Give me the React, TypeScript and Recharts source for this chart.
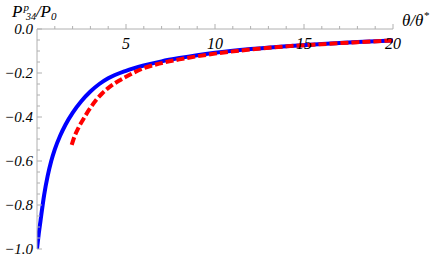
import React from "react";
import { LineChart, Line, XAxis, YAxis } from "recharts";

const blueX = [0, 0.1, 0.2, 0.4, 0.6, 0.8, 1.0, 1.3, 1.6, 2.0, 2.5, 3.0, 3.5, 4.0, 5, 6, 7, 8, 9, 10, 12, 14, 16, 18, 20];
const blueY = [-1.0, -0.93, -0.87, -0.755, -0.668, -0.6, -0.547, -0.485, -0.435, -0.381, -0.327, -0.284, -0.25, -0.224, -0.19, -0.166, -0.147, -0.132, -0.119, -0.108, -0.091, -0.078, -0.068, -0.059, -0.052];

const redX = [1.95, 2.1, 2.36, 2.6, 2.92, 3.3, 3.67, 4.1, 4.6, 5, 6, 7, 8, 9, 10, 12, 14, 16, 18, 20];
const redY = [-0.527, -0.49, -0.444, -0.41, -0.368, -0.325, -0.292, -0.262, -0.235, -0.217, -0.178, -0.155, -0.138, -0.124, -0.112, -0.093, -0.079, -0.069, -0.06, -0.052];

const xTicks = [1, 2, 3, 4, 5, 6, 7, 8, 9, 10, 11, 12, 13, 14, 15, 16, 17, 18, 19, 20];
const xMajor = [5, 10, 15, 20];
const yTicks = [0, -0.05, -0.1, -0.15, -0.2, -0.25, -0.3, -0.35, -0.4, -0.45, -0.5, -0.55, -0.6, -0.65, -0.7, -0.75, -0.8, -0.85, -0.9, -0.95, -1.0];
const yMajor = [0, -0.2, -0.4, -0.6, -0.8, -1.0];

const blueData = blueX.map((x, i) => ({ x, y: blueY[i] }));
const redData = redX.map((x, i) => ({ x, y: redY[i] }));

const PLOT_LEFT = 37;
const PLOT_TOP = 29;
const FONT = '"Liberation Serif", "Times New Roman", "DejaVu Serif", serif';
const AXIS_COLOR = "#b0b0b0";
const textStyle = { fontFamily: FONT, fontStyle: "italic" as const };

const isMajor = (arr: number[], v: number) => arr.some((m) => Math.abs(m - v) < 1e-6);

const XTick = (props: any) => {
  const { x, payload } = props;
  const v = payload.value;
  const major = isMajor(xMajor, v);
  return (
    <g>
      <line x1={x} x2={x} y1={PLOT_TOP} y2={PLOT_TOP - (major ? 5 : 3)} stroke={AXIS_COLOR} strokeWidth={1} />
      {major && (
        <text x={x} y={PLOT_TOP + 20} textAnchor="middle" style={textStyle} fontSize={16} fill="#000">
          {v}
        </text>
      )}
    </g>
  );
};

const YTick = (props: any) => {
  const { y, payload } = props;
  const v = payload.value;
  const major = isMajor(yMajor, v);
  const label = v === 0 ? "0.0" : "\u2212" + Math.abs(v).toFixed(1);
  return (
    <g>
      <line x1={PLOT_LEFT} x2={PLOT_LEFT + (major ? 5 : 3)} y1={y} y2={y} stroke={AXIS_COLOR} strokeWidth={1} />
      {major && (
        <text x={PLOT_LEFT - 4} y={y + 5} textAnchor="end" style={textStyle} fontSize={15} fill="#000">
          {label}
        </text>
      )}
    </g>
  );
};

export default function App() {
  return (
    <div style={{ position: "absolute", left: 0, top: 0, width: 436, height: 262, background: "#fff" }}>
      <LineChart width={436} height={262} margin={{ top: PLOT_TOP - 1, left: PLOT_LEFT - 1, right: 43, bottom: 13 }}>
        <XAxis
          type="number"
          dataKey="x"
          orientation="top"
          domain={[0, 20]}
          ticks={xTicks}
          interval={0}
          height={1}
          tickLine={false}
          axisLine={{ stroke: AXIS_COLOR }}
          tick={<XTick />}
          allowDataOverflow
        />
        <YAxis
          type="number"
          dataKey="y"
          domain={[-1, 0]}
          ticks={yTicks}
          interval={0}
          width={1}
          tickLine={false}
          axisLine={{ stroke: AXIS_COLOR }}
          tick={<YTick />}
          allowDataOverflow
        />
        <Line data={blueData} dataKey="y" type="monotone" stroke="#0000ff" strokeWidth={4} dot={false} isAnimationActive={false} />
        <Line data={redData} dataKey="y" type="monotone" stroke="#ff0000" strokeWidth={4} strokeDasharray="8 3" dot={false} isAnimationActive={false} />
      </LineChart>
      <svg width={436} height={262} style={{ position: "absolute", left: 0, top: 0, pointerEvents: "none" }}>
        <g style={textStyle} fill="#000">
          <text x={12} y={17} fontSize={17}>
            P
            <tspan fontSize={11} dx={1} dy={-6}>p</tspan>
            <tspan fontSize={10} dx={-3} dy={9}>34</tspan>
            <tspan fontSize={17} dx={0} dy={-3}>/P</tspan>
            <tspan fontSize={11} dy={3}>0</tspan>
          </text>
          <text x={402} y={26} fontSize={17}>
            θ/θ
            <tspan fontSize={11} dy={-7}>*</tspan>
          </text>
        </g>
      </svg>
    </div>
  );
}
